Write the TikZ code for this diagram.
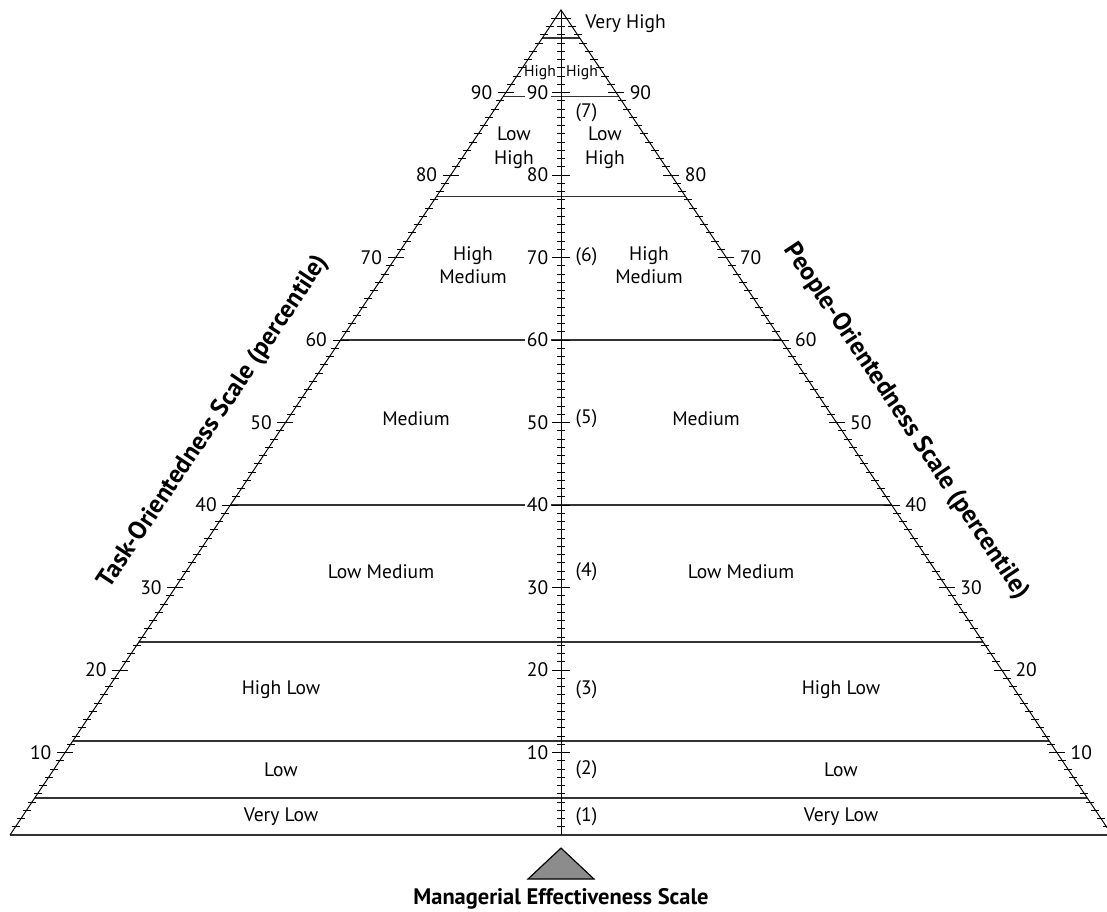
\documentclass[tikz,border=0pt]{standalone}
\usepackage{fontspec}
\setmainfont{PT Sans}
\usetikzlibrary{positioning}
\tikzset{
    side/.style={line width=0.5pt},
    band/.style={line width=0.7pt,black!80},
    tick/.style={line width=0.45pt},
    num/.style={font=\fontsize{10}{12}\selectfont,inner sep=1.2pt},
    zone/.style={font=\fontsize{10}{12}\selectfont,align=center,inner sep=0pt},
    small zone/.style={font=\fontsize{8}{9}\selectfont,inner sep=0pt},
    scale label/.style={font=\fontsize{13}{15}\selectfont\bfseries,inner sep=0pt},
    title/.style={font=\fontsize{11.5}{13}\selectfont\bfseries,inner sep=0pt}
}

\begin{document}
\begin{tikzpicture}[x=0.18mm,y=1.485mm]
\useasboundingbox (-561,-9.21) rectangle (546,101.21);

% corners of the pyramid
\coordinate (apex) at (0,100);
\coordinate (lc) at (-551,0);
\coordinate (rc) at (551,0);
\coordinate (foot) at (0,0);

% stanine bands
\foreach \v in {4.5,11.4,23.4,40,60,77.4,89.5,96.6}
    \draw[band] ({-5.51*(100-\v)},\v) -- ({5.51*(100-\v)},\v);
\draw[band] (lc) -- (rc);

% outline and middle axis
\draw[side] (lc) -- (apex) -- (rc);
\draw[side] (apex) -- (foot);

% percentile numbers
\foreach \v in {10,20,...,90} {
    \node[num,fill=white,anchor=east] (c\v) at (-10,\v) {\v};
    \node[num,anchor=east] (l\v) at ({-5.51*(100-\v)-11},\v) {\v};
    \node[num,anchor=west] (r\v) at ({5.51*(100-\v)+11},\v) {\v};
}

% ticks
\foreach \v in {1,...,99} {
    \draw[tick] (-4,\v) -- (4,\v);
    \draw[tick] ({-5.51*(100-\v)-4},\v) -- ({-5.51*(100-\v)+4},\v);
    \draw[tick] ({5.51*(100-\v)-4},\v) -- ({5.51*(100-\v)+4},\v);
}
\foreach \v in {10,20,...,90} {
    \draw[tick] (-9,\v) -- (9,\v);
    \draw[tick] ({-5.51*(100-\v)-8},\v) -- ({-5.51*(100-\v)+8},\v);
    \draw[tick] ({5.51*(100-\v)-8},\v) -- ({5.51*(100-\v)+8},\v);
}

% effectiveness levels
\foreach \v/\n in {2.2/1,7.9/2,17.6/3,31.9/4,50.5/5,70.1/6,87.5/7}
    \node[num,anchor=west] (lvl\n) at (12,\v) {(\n)};

% band names
\node[zone] (vlowL)  at (-280,2.2)  {Very Low};
\node[zone] (vlowR)  at (280,2.2)   {Very Low};
\node[zone] (lowL)   at (-280,7.9)  {Low};
\node[zone] (lowR)   at (280,7.9)   {Low};
\node[zone] (hlowL)  at (-280,17.6) {High Low};
\node[zone] (hlowR)  at (280,17.6)  {High Low};
\node[zone] (lmedL)  at (-180,31.9) {Low Medium};
\node[zone] (lmedR)  at (180,31.9)  {Low Medium};
\node[zone] (medL)   at (-145,50.5) {Medium};
\node[zone] (medR)   at (145,50.5)  {Medium};
\node[zone] (hmedL)  at (-88,69.1)  {High\\Medium};
\node[zone] (hmedR)  at (88,69.1)   {High\\Medium};
\node[zone] (lhighL) at (-47,83.3)  {Low\\High};
\node[zone] (lhighR) at (44,83.3)   {Low\\High};
\node[small zone] (highL) at (-21,92.4) {High};
\node[small zone] (highR) at (21,92.4)  {High};
\node[zone,anchor=west] (vhigh) at (24,98.4) {Very High};

% scale names
\node[scale label,rotate=56.3] (task) at (-347,50.1) {Task-Orientedness Scale (percentile)};
\node[scale label,rotate=-56.3] (people) at (345,50.1) {People-Orientedness Scale (percentile)};

% fulcrum
\filldraw[fill=black!45,line width=0.6pt] (0,-1.58) -- (-33,-5.33) -- (33,-5.33) -- cycle;
\coordinate (mbase) at (0,-5.33);
\node[title,below=1.6mm of mbase] (mes) {Managerial Effectiveness Scale};

\end{tikzpicture}
\end{document}
